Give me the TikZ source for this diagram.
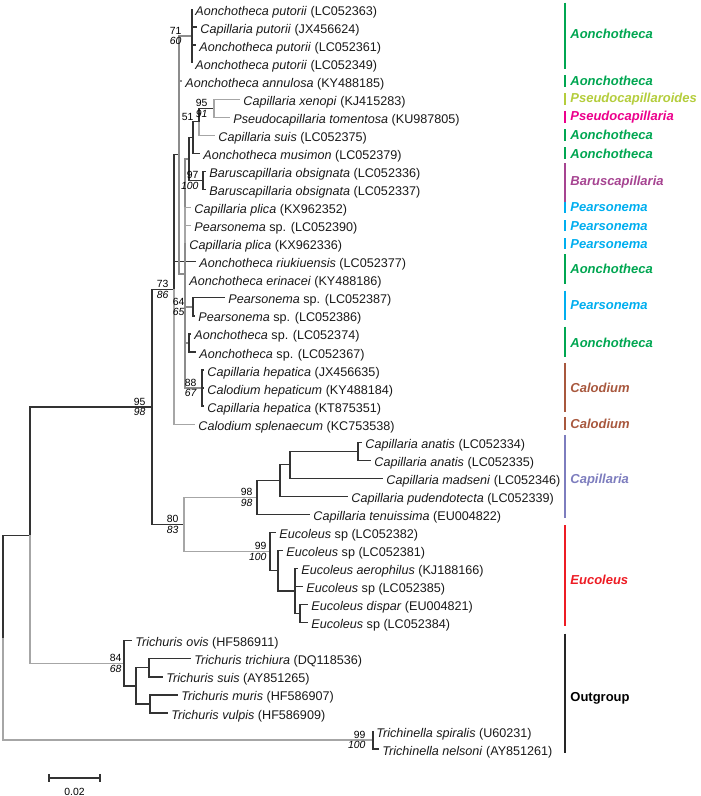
\documentclass[tikz,border=0pt]{standalone}
\usepackage{fontspec}
\setmainfont{Liberation Sans}
\usepackage{xcolor}
\usetikzlibrary{calc,positioning}
\definecolor{aonch}{RGB}{0,166,81}
\definecolor{pseudoides}{RGB}{180,205,60}
\definecolor{pseudo}{RGB}{236,0,140}
\definecolor{barus}{RGB}{166,68,145}
\definecolor{pearso}{RGB}{0,174,239}
\definecolor{calod}{RGB}{168,88,62}
\definecolor{capil}{RGB}{125,125,190}
\definecolor{eucol}{RGB}{237,28,36}
\tikzset{%
	leaf/.style   = {anchor=west, inner sep=1.5pt, text=black!90, font=\fontsize{6.3}{7.6}\selectfont, text height=1.6ex, text depth=0.45ex},
	branch/.style = {line width=0.65pt, black!80},
	pale/.style   = {line width=0.65pt, black!35},
	stem/.style   = {line width=1pt, black!45},
	supup/.style  = {anchor=south east, inner sep=0.6pt, font=\fontsize{5.2}{6}\selectfont},
	supdn/.style  = {anchor=north east, inner sep=0.6pt, font=\fontsize{5.2}{6}\selectfont\itshape},
	bar/.style    = {line width=1.4pt},
	clade/.style  = {anchor=west, inner sep=0pt, font=\fontsize{6.5}{7.5}\selectfont\bfseries\itshape},
}
\begin{document}
\begin{tikzpicture}[x=0.5pt, y=-9.025pt]
	\useasboundingbox (0,-0.4986) rectangle (700,43.601);
	
	% leaves, one row each
	\node[leaf] (aput1)  at (192,0)  {\textit{Aonchotheca putorii} (LC052363)};
	\node[leaf] (cput)   at (197,1)  {\textit{Capillaria putorii} (JX456624)};
	\node[leaf] (aput2)  at (196,2)  {\textit{Aonchotheca putorii} (LC052361)};
	\node[leaf] (aput3)  at (192,3)  {\textit{Aonchotheca putorii} (LC052349)};
	\node[leaf] (annul)  at (182,4)  {\textit{Aonchotheca annulosa} (KY488185)};
	\node[leaf] (xenop)  at (240,5)  {\textit{Capillaria xenopi} (KJ415283)};
	\node[leaf] (tomen)  at (230,6)  {\textit{Pseudocapillaria tomentosa} (KU987805)};
	\node[leaf] (csuis)  at (215,7)  {\textit{Capillaria suis} (LC052375)};
	\node[leaf] (musim)  at (200,8)  {\textit{Aonchotheca musimon} (LC052379)};
	\node[leaf] (obsi1)  at (206,9)  {\textit{Baruscapillaria obsignata} (LC052336)};
	\node[leaf] (obsi2)  at (206,10) {\textit{Baruscapillaria obsignata} (LC052337)};
	\node[leaf] (plica1) at (191,11) {\textit{Capillaria plica} (KX962352)};
	\node[leaf] (pears1) at (191,12) {\textit{Pearsonema} sp. (LC052390)};
	\node[leaf] (plica2) at (186,13) {\textit{Capillaria plica} (KX962336)};
	\node[leaf] (riuki)  at (196,14) {\textit{Aonchotheca riukiuensis} (LC052377)};
	\node[leaf] (erina)  at (186,15) {\textit{Aonchotheca erinacei} (KY488186)};
	\node[leaf] (pears2) at (225,16) {\textit{Pearsonema} sp. (LC052387)};
	\node[leaf] (pears3) at (195,17) {\textit{Pearsonema} sp. (LC052386)};
	\node[leaf] (aonsp1) at (191,18) {\textit{Aonchotheca} sp. (LC052374)};
	\node[leaf] (aonsp2) at (196,19) {\textit{Aonchotheca} sp. (LC052367)};
	\node[leaf] (hepat1) at (204,20) {\textit{Capillaria hepatica} (JX456635)};
	\node[leaf] (hepat2) at (204,21) {\textit{Calodium hepaticum} (KY488184)};
	\node[leaf] (hepat3) at (204,22) {\textit{Capillaria hepatica} (KT875351)};
	\node[leaf] (splen)  at (195,23) {\textit{Calodium splenaecum} (KC753538)};
	\node[leaf] (anat1)  at (362,24) {\textit{Capillaria anatis} (LC052334)};
	\node[leaf] (anat2)  at (371,25) {\textit{Capillaria anatis} (LC052335)};
	\node[leaf] (madse)  at (383,26) {\textit{Capillaria madseni} (LC052346)};
	\node[leaf] (puden)  at (348,27) {\textit{Capillaria pudendotecta} (LC052339)};
	\node[leaf] (tenui)  at (310,28) {\textit{Capillaria tenuissima} (EU004822)};
	\node[leaf] (euc82)  at (276,29) {\textit{Eucoleus} sp (LC052382)};
	\node[leaf] (euc81)  at (283,30) {\textit{Eucoleus} sp (LC052381)};
	\node[leaf] (aerop)  at (298,31) {\textit{Eucoleus aerophilus} (KJ188166)};
	\node[leaf] (euc85)  at (303,32) {\textit{Eucoleus} sp (LC052385)};
	\node[leaf] (dispa)  at (308,33) {\textit{Eucoleus dispar} (EU004821)};
	\node[leaf] (euc84)  at (308,34) {\textit{Eucoleus} sp (LC052384)};
	\node[leaf] (tovis)  at (132,35) {\textit{Trichuris ovis} (HF586911)};
	\node[leaf] (ttric)  at (191,36) {\textit{Trichuris trichiura} (DQ118536)};
	\node[leaf] (tsuis)  at (163,37) {\textit{Trichuris suis} (AY851265)};
	\node[leaf] (tmuri)  at (178,38) {\textit{Trichuris muris} (HF586907)};
	\node[leaf] (tvulp)  at (168,39) {\textit{Trichuris vulpis} (HF586909)};
	\node[leaf] (tspir)  at (373,40) {\textit{Trichinella spiralis} (U60231)};
	\node[leaf] (tnels)  at (379,41) {\textit{Trichinella nelsoni} (AY851261)};
	
	% internal nodes
	\coordinate (P)  at (192,1.5);
	\coordinate (G)  at (214,5.5);
	\coordinate (H)  at (199,6.25);
	\coordinate (I)  at (193,7.125);
	\coordinate (K)  at (203,9.5);
	\coordinate (J)  at (189,8.3125);
	\coordinate (L)  at (193,16.5);
	\coordinate (M)  at (189,18.5);
	\coordinate (N)  at (202,21);
	\coordinate (E)  at (185,14.656);
	\coordinate (D)  at (179,8.078);
	\coordinate (C)  at (174,15.539);
	\coordinate (Q3) at (358,24.5);
	\coordinate (Q2) at (290,25.25);
	\coordinate (Q1) at (280,26.125);
	\coordinate (Q)  at (257,27.0625);
	\coordinate (U3) at (300,33.5);
	\coordinate (U2) at (295,32.25);
	\coordinate (U1) at (278,31.125);
	\coordinate (U)  at (270,30.0625);
	\coordinate (V)  at (184,28.5625);
	\coordinate (B)  at (152,22.05);
	\coordinate (W2) at (149,36.5);
	\coordinate (W3) at (150,38.5);
	\coordinate (W1) at (136,37.5);
	\coordinate (W)  at (124,36.25);
	\coordinate (A)  at (30,29.15);
	\coordinate (T)  at (373,40.5);
	\coordinate (R)  at (3,34.825);
	
	% root and Trichinella
	\draw[branch] (R) |- (A);
	\draw[pale]   (R) |- (T);
	\draw[branch] (T) |- (tspir.west);
	\draw[branch] (T) |- (tnels.west);
	% Trichuris
	\draw[pale]   (A) |- (W);
	\draw[branch] (W) |- (tovis.west);
	\draw[branch] (W) |- (W1);
	\draw[branch] (W1) |- (W2);
	\draw[branch] (W1) |- (W3);
	\draw[branch] (W2) |- (ttric.west);
	\draw[branch] (W2) |- (tsuis.west);
	\draw[branch] (W3) |- (tmuri.west);
	\draw[branch] (W3) |- (tvulp.west);
	% Capillariidae
	\draw[branch] (A) |- (B);
	\draw[branch] (B) |- (C);
	\draw[branch] (B) |- (V);
	\draw[branch] (C) |- (D);
	\draw[branch] (C) |- (riuki.west);
	\draw[pale]   (C) |- (splen.west);
	\draw[stem]   (D) |- (P);
	\draw[stem]   (D) |- (annul.west);
	\draw[stem]   (D) |- (E);
	\draw[branch] (P) |- (aput1.west);
	\draw[branch] (P) |- (cput.west);
	\draw[branch] (P) |- (aput2.west);
	\draw[branch] (P) |- (aput3.west);
	\draw[stem]   (E) |- (J);
	\draw[pale]   (E) |- (plica1.west);
	\draw[pale]   (E) |- (pears1.west);
	\draw[stem]   (E) |- (plica2.west);
	\draw[stem]   (E) |- (erina.west);
	\draw[stem]   (E) |- (L);
	\draw[stem]   (E) |- (M);
	\draw[stem]   (E) |- (N);
	\draw[branch] (J) |- (I);
	\draw[branch] (J) |- (K);
	\draw[branch] (I) |- (H);
	\draw[branch] (I) |- (musim.west);
	\draw[branch] (H) |- (G);
	\draw[pale]   (H) |- (csuis.west);
	\draw[pale]   (G) |- (xenop.west);
	\draw[pale]   (G) |- (tomen.west);
	\draw[branch] (K) |- (obsi1.west);
	\draw[branch] (K) |- (obsi2.west);
	\draw[branch] (L) |- (pears2.west);
	\draw[branch] (L) |- (pears3.west);
	\draw[branch] (M) |- (aonsp1.west);
	\draw[branch] (M) |- (aonsp2.west);
	\draw[branch] (N) |- (hepat1.west);
	\draw[branch] (N) |- (hepat2.west);
	\draw[branch] (N) |- (hepat3.west);
	% Capillaria and Eucoleus
	\draw[pale]   (V) |- (Q);
	\draw[pale]   (V) |- (U);
	\draw[branch] (Q) |- (Q1);
	\draw[branch] (Q) |- (tenui.west);
	\draw[branch] (Q1) |- (Q2);
	\draw[branch] (Q1) |- (puden.west);
	\draw[branch] (Q2) |- (Q3);
	\draw[branch] (Q2) |- (madse.west);
	\draw[branch] (Q3) |- (anat1.west);
	\draw[branch] (Q3) |- (anat2.west);
	\draw[branch] (U) |- (euc82.west);
	\draw[branch] (U) |- (U1);
	\draw[branch] (U1) |- (euc81.west);
	\draw[branch] (U1) |- (U2);
	\draw[branch] (U2) |- (aerop.west);
	\draw[branch] (U2) |- (euc85.west);
	\draw[branch] (U2) |- (U3);
	\draw[branch] (U3) |- (dispa.west);
	\draw[branch] (U3) |- (euc84.west);
	
	% support values
	\node[supup] (sP)  at ([xshift=-4.5pt]P) {71};
	\node[supdn] (sPi) at ([xshift=-4.5pt]P) {60};
	\node[supup] (sG)  at ([xshift=-2.5pt]G) {95};
	\node[supdn] (sGi) at ([xshift=-2.5pt]G) {91};
	\node[supup] (sH)  at ([xshift=-2pt]H) {51};
	\node[supup] (sK)  at ([xshift=-1.5pt]K) {97};
	\node[supdn] (sKi) at ([xshift=-1.5pt]K) {100};
	\node[supup] (sL)  at ([xshift=-3.5pt]L) {64};
	\node[supdn] (sLi) at ([xshift=-3.5pt]L) {65};
	\node[supup] (sN)  at ([xshift=-2pt]N) {88};
	\node[supdn] (sNi) at ([xshift=-2pt]N) {67};
	\node[supup] (sC)  at ([xshift=-2pt]C) {73};
	\node[supdn] (sCi) at ([xshift=-2pt]C) {86};
	\node[supup] (sB)  at ([xshift=-2.5pt]B) {95};
	\node[supdn] (sBi) at ([xshift=-2.5pt]B) {98};
	\node[supup] (sV)  at ([xshift=-2pt]V) {80};
	\node[supdn] (sVi) at ([xshift=-2pt]V) {83};
	\node[supup] (sQ)  at ([xshift=-1.5pt]Q) {98};
	\node[supdn] (sQi) at ([xshift=-1.5pt]Q) {98};
	\node[supup] (sU)  at ([xshift=-1pt]U) {99};
	\node[supdn] (sUi) at ([xshift=-1pt]U) {100};
	\node[supup] (sW)  at ([xshift=-0.5pt]W) {84};
	\node[supdn] (sWi) at ([xshift=-0.5pt]W) {68};
	\node[supup] (sT)  at ([xshift=-3pt]T) {99};
	\node[supdn] (sTi) at ([xshift=-3pt]T) {100};
	
	% genus bars on the right
	\draw[bar, aonch] (565,-0.35) -- (565,3.3);
	\node[clade, aonch] (gen1) at (570,1.4) {Aonchotheca};
	\draw[bar, aonch] (565,3.65) -- (565,4.3);
	\node[clade, aonch] (gen2) at (570,4) {Aonchotheca};
	\draw[bar, pseudoides] (565,4.65) -- (565,5.3);
	\node[clade, pseudoides] (gen3) at (570,5) {Pseudocapillaroides};
	\draw[bar, pseudo] (565,5.65) -- (565,6.3);
	\node[clade, pseudo] (gen4) at (570,6) {Pseudocapillaria};
	\draw[bar, aonch] (565,6.65) -- (565,7.3);
	\node[clade, aonch] (gen5) at (570,7) {Aonchotheca};
	\draw[bar, aonch] (565,7.65) -- (565,8.3);
	\node[clade, aonch] (gen6) at (570,8) {Aonchotheca};
	\draw[bar, barus] (565,8.55) -- (565,10.75);
	\node[clade, barus] (gen7) at (570,9.6) {Baruscapillaria};
	\draw[bar, pearso] (565,10.7) -- (565,11.3);
	\node[clade, pearso] (gen8) at (570,11) {Pearsonema};
	\draw[bar, pearso] (565,11.7) -- (565,12.3);
	\node[clade, pearso] (gen9) at (570,12) {Pearsonema};
	\draw[bar, pearso] (565,12.7) -- (565,13.3);
	\node[clade, pearso] (gen10) at (570,13) {Pearsonema};
	\draw[bar, aonch] (565,13.6) -- (565,15.25);
	\node[clade, aonch] (gen11) at (570,14.4) {Aonchotheca};
	\draw[bar, pearso] (565,15.6) -- (565,17.25);
	\node[clade, pearso] (gen12) at (570,16.4) {Pearsonema};
	\draw[bar, aonch] (565,17.6) -- (565,19.3);
	\node[clade, aonch] (gen13) at (570,18.5) {Aonchotheca};
	\draw[bar, calod] (565,19.6) -- (565,22.3);
	\node[clade, calod] (gen14) at (570,21) {Calodium};
	\draw[bar, calod] (565,22.6) -- (565,23.3);
	\node[clade, calod] (gen15) at (570,23) {Calodium};
	\draw[bar, capil] (565,23.6) -- (565,28.2);
	\node[clade, capil] (gen16) at (570,26.1) {Capillaria};
	\draw[bar, eucol] (565,28.6) -- (565,34.2);
	\node[clade, eucol] (gen17) at (570,31.6) {Eucoleus};
	\draw[bar, black!85] (565,34.6) -- (565,41.2);
	\node[clade, black] (gen18) at (570,38.2) {\upshape Outgroup};
	
	% scale bar
	\coordinate (sbl) at (49,42.6);
	\coordinate (sbr) at (100,42.6);
	\draw[branch] (sbl) -- (sbr);
	\draw[branch] ([yshift=2pt]sbl) -- ([yshift=-2pt]sbl);
	\draw[branch] ([yshift=2pt]sbr) -- ([yshift=-2pt]sbr);
	\node[font=\fontsize{5.2}{6}\selectfont] (sblab) at ($(sbl)!0.5!(sbr)+(0,0.75)$) {0.02};
\end{tikzpicture}
\end{document}
